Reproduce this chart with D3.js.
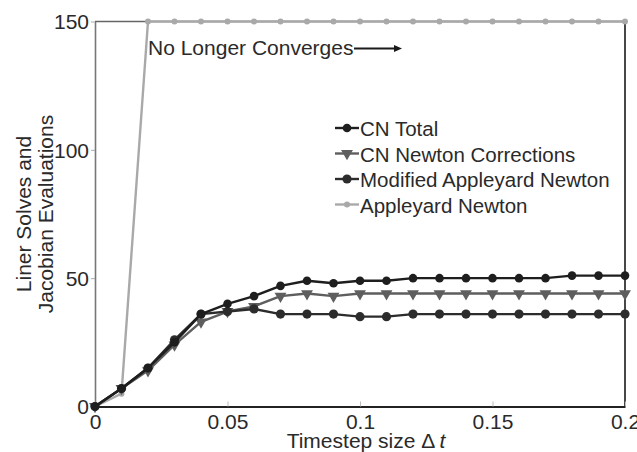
<!DOCTYPE html>
<html>
<head>
<meta charset="utf-8">
<script src="https://cdn.jsdelivr.net/npm/d3@7"></script>
<style>
  body { margin: 0; background: #fff; }
  svg { display: block; font-family: "Liberation Sans", Arial, sans-serif; }
  .tick text { fill: #2a2a2a; }
</style>
</head>
<body>
<svg id="chart" width="637" height="452"></svg>
<script>
// timestep sizes
const timesteps = [0, 0.01, 0.02, 0.03, 0.04, 0.05, 0.06, 0.07, 0.08, 0.09, 0.1,
   0.11, 0.12, 0.13, 0.14, 0.15, 0.16, 0.17, 0.18, 0.19, 0.2];

const cnTotal = [0, 7, 15, 25, 36, 40, 43, 47, 49, 48, 49, 49, 50, 50, 50, 50, 50, 50, 51, 51, 51];
const cnNewton = [0, 7, 14, 24, 33, 37, 39, 43, 44, 43, 44, 44, 44, 44, 44, 44, 44, 44, 44, 44, 44];
const modAppleyard = [0, 7, 15, 26, 36, 37, 38, 36, 36, 36, 35, 35, 36, 36, 36, 36, 36, 36, 36, 36, 36];
const appleyard = [0, 5, 150, 150, 150, 150, 150, 150, 150, 150, 150,
   150, 150, 150, 150, 150, 150, 150, 150, 150, 150];

const seriesNames = ["CN Total", "CN Newton Corrections", "Modified Appleyard Newton", "Appleyard Newton"];
const xTicks = [0, 0.05, 0.1, 0.15, 0.2];
const yTicks = [0, 50, 100, 150];

const svg = d3.select("#chart");
const plot = { left: 95, right: 625, top: 21.5, bottom: 406.5 };

const x = d3.scaleLinear().domain([0, 0.2]).range([plot.left, plot.right]);
const y = d3.scaleLinear().domain([0, 150]).range([plot.bottom, plot.top]);

// series styling
const series = [
   { name: seriesNames[0], values: cnTotal, color: "#1e1e1e", marker: "circle", r: 4.3 },
   { name: seriesNames[1], values: cnNewton, color: "#5e5e5e", marker: "triangle", r: 4.5 },
   { name: seriesNames[2], values: modAppleyard, color: "#2c2c2c", marker: "circle", r: 4.6 },
   { name: seriesNames[3], values: appleyard, color: "#a9a9a9", marker: "circle", r: 3 },
];

// axes box
svg.append("line").attr("x1", plot.right).attr("x2", plot.right).attr("y1", plot.top).attr("y2", plot.bottom)
   .attr("stroke", "#1a1a1a").attr("stroke-width", 1.6);
svg.append("line").attr("x1", plot.left).attr("x2", plot.right).attr("y1", plot.top).attr("y2", plot.top)
   .attr("stroke", "#666").attr("stroke-width", 1.4);

const xAxis = svg.append("g")
   .attr("transform", `translate(0,${plot.bottom})`)
   .call(d3.axisBottom(x).tickValues(xTicks).tickSizeInner(-5).tickSizeOuter(0)
      .tickPadding(7).tickFormat(d => d === 0 ? "0" : String(d)));
xAxis.select(".domain").attr("stroke", "#222").attr("stroke-width", 1.8);
xAxis.selectAll(".tick line").attr("stroke", "#bbb");
xAxis.selectAll(".tick text").style("font-size", "21px").attr("dy", "0.72em");

const yAxis = svg.append("g")
   .attr("transform", `translate(${plot.left},0)`)
   .call(d3.axisLeft(y).tickValues(yTicks).tickSizeInner(4).tickSizeOuter(0).tickPadding(2));
yAxis.select(".domain").attr("stroke", "#777").attr("stroke-width", 1.6);
yAxis.selectAll(".tick line").attr("stroke", "#aaa");
yAxis.selectAll(".tick text").style("font-size", "21px").attr("dy", "0.35em");

// axis labels
svg.append("text")
   .attr("x", (plot.left + plot.right) / 2 + 6).attr("y", 448)
   .attr("text-anchor", "middle").style("font-size", "21px").attr("fill", "#2a2a2a")
   .text("Timestep size \u0394\u2009")
   .append("tspan").style("font-style", "italic").text("t");

const yl = svg.append("text")
   .attr("transform", `translate(0,${(plot.top + plot.bottom) / 2}) rotate(-90)`)
   .attr("text-anchor", "middle").style("font-size", "21px").attr("fill", "#2a2a2a");
yl.append("tspan").attr("x", 0).attr("y", 31).text("Liner Solves and");
yl.append("tspan").attr("x", 0).attr("y", 53).text("Jacobian Evaluations");

// lines
const line = d3.line().x((d, i) => x(timesteps[i])).y(d => y(d));

function drawMarker(g, s, cx, cy) {
   if (s.marker === "triangle") {
      g.append("path")
         .attr("d", d3.symbol().type(d3.symbolTriangle).size(s.r * s.r * 3)())
         .attr("transform", `translate(${cx},${cy}) rotate(180)`)
         .attr("fill", s.color);
   } else {
      g.append("circle").attr("cx", cx).attr("cy", cy).attr("r", s.r).attr("fill", s.color);
   }
}

// draw back to front so the light series sits underneath
[3, 1, 2, 0].forEach(k => {
   const s = series[k];
   const g = svg.append("g");
   g.append("path").datum(s.values).attr("d", line)
      .attr("fill", "none").attr("stroke", s.color).attr("stroke-width", 2.4)
      .attr("stroke-linejoin", "round");
   s.values.forEach((v, i) => drawMarker(g, s, x(timesteps[i]), y(v)));
});

// annotation
svg.append("text").attr("x", 148).attr("y", 55)
   .style("font-size", "21px").attr("fill", "#2a2a2a").text("No Longer Converges");
svg.append("line").attr("x1", 354).attr("x2", 396).attr("y1", 48.5).attr("y2", 48.5)
   .attr("stroke", "#1a1a1a").attr("stroke-width", 2.2);
svg.append("path").attr("d", "M394,45 L402,48.5 L394,52 Z").attr("fill", "#1a1a1a");

// legend
const legend = svg.append("g");
series.forEach((s, i) => {
   const cy = 128 + i * 25.5;
   legend.append("line").attr("x1", 335).attr("x2", 359).attr("y1", cy).attr("y2", cy)
      .attr("stroke", s.color).attr("stroke-width", 2.4);
   drawMarker(legend, s, 347, cy);
   legend.append("text").attr("x", 360).attr("y", cy + 8)
      .style("font-size", "20.5px").attr("fill", "#2a2a2a").text(s.name);
});
</script>
</body>
</html>
